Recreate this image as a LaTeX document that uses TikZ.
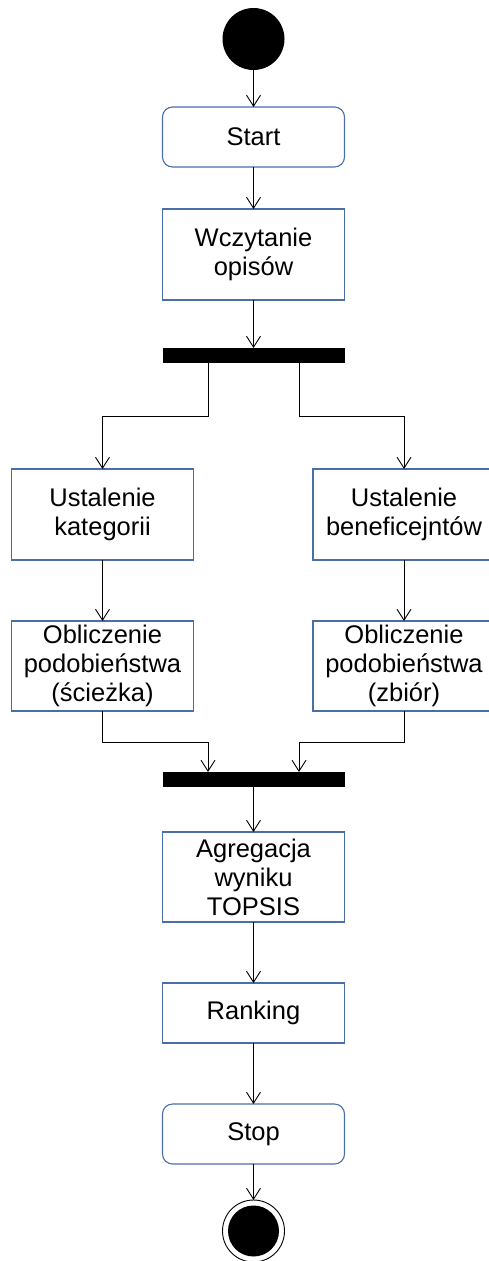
\documentclass[tikz,border=0pt]{standalone}
\usepackage{fontspec}
\setmainfont{Liberation Sans}
\usetikzlibrary{arrows.meta,positioning}
\definecolor{boxblue}{RGB}{74,110,168}

\begin{document}
\begin{tikzpicture}[x=1pt, y=1pt, node distance=61pt,
		every node/.style={font=\fontsize{25.5}{29}\selectfont, align=center, outer sep=0pt},
		act/.style={draw=boxblue, line width=1.1pt, minimum width=182pt, minimum height=90pt, inner sep=1pt},
		rnd/.style={act, rounded corners=10pt, minimum height=60pt},
		bar/.style={fill=black, minimum width=182pt, minimum height=15pt, inner sep=0pt},
		flow/.style={line width=0.9pt, -{Straight Barb[length=11pt, width=14pt, line width=0.9pt]}}]
	\useasboundingbox (0,0) rectangle (489,-1261);
	\node[circle, fill=black, minimum size=62pt, inner sep=0pt] (init) at (253.5,-39) {};
	\node[rnd, below=37pt of init] (start) {Start};
	\node[act, minimum height=91pt, below=42pt of start] (read) {Wczytanie\\opisów};
	\node[bar, below=48pt of read] (fork) {};
	\node[act, minimum height=91pt, below=106pt of fork, xshift=-151pt] (cat) {Ustalenie\\kategorii};
	\node[act, minimum height=91pt, below=106pt of fork, xshift=150.5pt] (ben) {Ustalenie\\beneficejntów};
	\node[act, below=of cat] (simp) {Obliczenie\\podobieństwa\\(ścieżka)};
	\node[act, below=of ben] (sims) {Obliczenie\\podobieństwa\\(zbiór)};
	\node[bar, below=61pt of simp, xshift=151pt] (join) {};
	\node[act, below=45pt of join] (agg) {Agregacja\\wyniku\\TOPSIS};
	\node[act, minimum height=60pt, below=of agg] (rank) {Ranking};
	\node[rnd, below=of rank] (stop) {Stop};
	\node[circle, draw, line width=0.9pt, minimum size=62pt, inner sep=0pt, below=36pt of stop] (final) {};
	\node[circle, fill=black, minimum size=51pt, inner sep=0pt] at (final) {};
	\draw[flow] (init) -- (start);
	\draw[flow] (start) -- (read);
	\draw[flow] (read) -- (fork);
	\draw[flow] ([xshift=-45.5pt]fork.south) -- ++(0,-53) -| (cat);
	\draw[flow] ([xshift=45.5pt]fork.south) -- ++(0,-53) -| (ben);
	\draw[flow] (cat) -- (simp);
	\draw[flow] (ben) -- (sims);
	\draw[flow] (simp.south) -- ++(0,-31) -| ([xshift=-45.5pt]join.north);
	\draw[flow] (sims.south) -- ++(0,-31) -| ([xshift=45.5pt]join.north);
	\draw[flow] (join) -- (agg);
	\draw[flow] (agg) -- (rank);
	\draw[flow] (rank) -- (stop);
	\draw[flow] (stop) -- (final);
\end{tikzpicture}
\end{document}
